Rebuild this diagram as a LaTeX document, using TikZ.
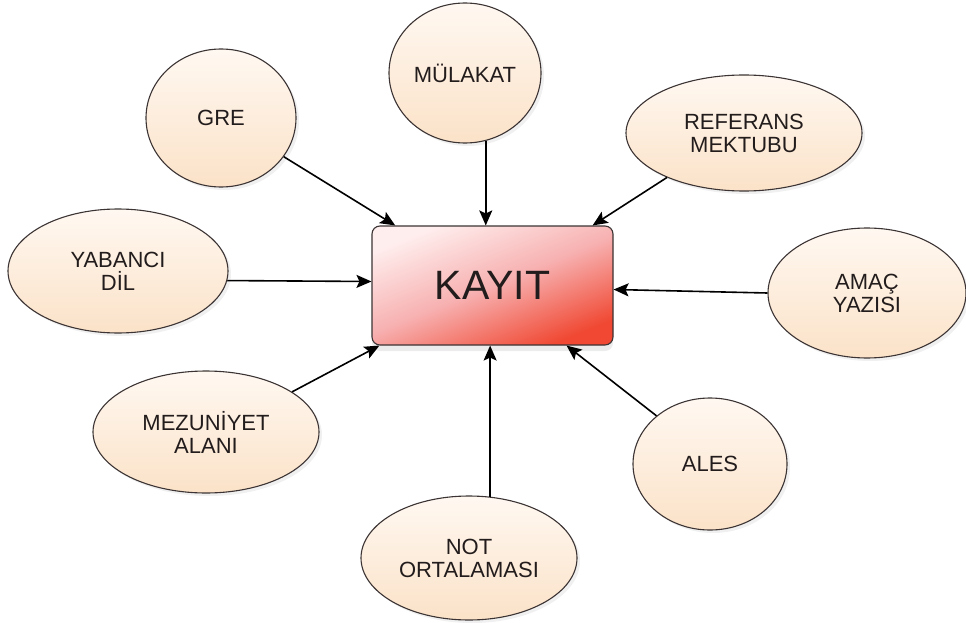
\documentclass[tikz,border=0pt]{standalone}
\usepackage{fontspec}
\setmainfont{Liberation Sans}
\usetikzlibrary{arrows.meta,shapes.geometric,shadows}
\definecolor{peachlight}{RGB}{255,248,241}
\definecolor{peachdark}{RGB}{251,226,200}
\definecolor{boxlight}{RGB}{255,238,238}
\definecolor{boxmid}{RGB}{247,176,176}
\definecolor{boxdark}{RGB}{240,72,50}
\definecolor{edgegray}{RGB}{60,52,52}
\definecolor{inkdark}{RGB}{34,28,28}

\begin{document}
\begin{tikzpicture}[
  x=1pt,y=-1pt,
  field/.style={ellipse,draw=edgegray,line width=1.1pt,inner sep=0pt,align=center,
    top color=peachlight,bottom color=peachdark,text=inkdark,
    font=\fontsize{22}{23}\selectfont,
    drop shadow={opacity=.12,shadow xshift=3pt,shadow yshift=-3pt}},
  target/.style={draw=edgegray,line width=1.1pt,rounded corners=8pt,
    minimum width=241pt,minimum height=119pt,text=inkdark,
    font=\fontsize{41}{44}\selectfont,
    top color=boxlight,bottom color=boxdark,middle color=boxmid,shading angle=22,
    drop shadow={opacity=.15,shadow xshift=0pt,shadow yshift=-6pt}},
  link/.style={line width=1.6pt,-{Stealth[length=15pt,width=13pt,inset=3pt]}}
]
  \useasboundingbox (0,0) rectangle (966,623);

  \node[target] (kayit) at (492.5,285.5) {KAYIT};

  \node[field,minimum width=150pt,minimum height=138pt] (gre) at (221,118) {GRE};
  \node[field,minimum width=152pt,minimum height=140pt] (mulakat) at (465,73) {MÜLAKAT};
  \node[field,minimum width=236pt,minimum height=116pt] (referans) at (744,133) {REFERANS\\MEKTUBU};
  \node[field,minimum width=220pt,minimum height=124pt] (yabanci) at (118,271) {YABANCI\\DİL};
  \node[field,minimum width=198pt,minimum height=130pt] (amac) at (867,293) {AMAÇ\\YAZISI};
  \node[field,minimum width=226pt,minimum height=122pt] (mezuniyet) at (206,432) {MEZUNİYET\\ALANI};
  \node[field,minimum width=154pt,minimum height=132pt] (ales) at (710,464) {ALES};
  \node[field,minimum width=216pt,minimum height=124pt] (notort) at (469,558) {NOT\\ORTALAMASI};

  \draw[link] (gre) -- (kayit);
  \draw[link] (mulakat.-73) -- (mulakat.-73 |- kayit.north);
  \draw[link] (referans.210) -- ([xshift=-21pt]kayit.north east);
  \draw[link] (yabanci.-5) -- ([yshift=4pt]kayit.west);
  \draw[link] (amac.west) -- ([yshift=-4pt]kayit.east);
  \draw[link] (mezuniyet.25) -- ([xshift=8pt]kayit.south west);
  \draw[link] (notort.71) -- (notort.71 |- kayit.south);
  \draw[link] (ales.138) -- ([xshift=-47pt]kayit.south east);
\end{tikzpicture}
\end{document}
